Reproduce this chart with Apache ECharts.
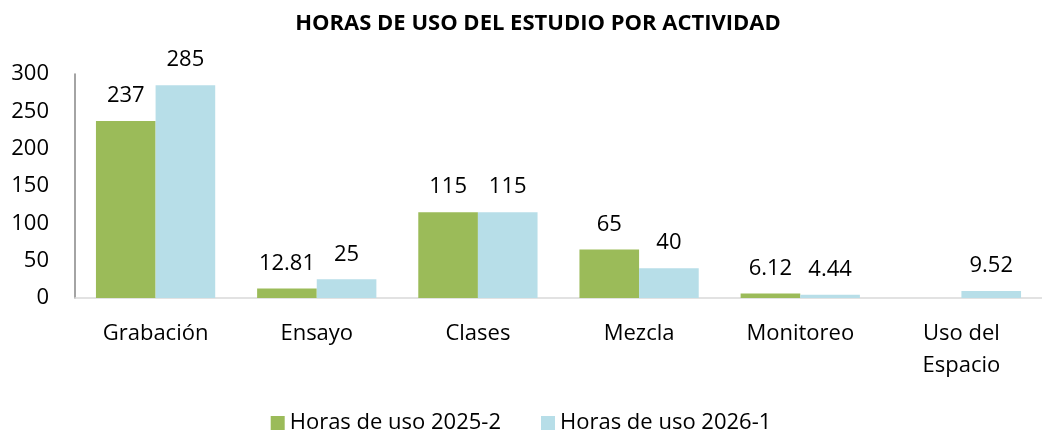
<!DOCTYPE html>
<html>
<head>
<meta charset="utf-8">
<script src="https://cdn.jsdelivr.net/npm/echarts@6/dist/echarts.min.js"></script>
<style>
  html, body { margin: 0; padding: 0; background: #fff; }
  #main { width: 1042px; height: 431px; }
</style>
</head>
<body>
<div id="main"></div>
<script>
var categories = ['Grabación', 'Ensayo', 'Clases', 'Mezcla', 'Monitoreo', 'Uso del\nEspacio'];
var horas2025_2 = [237, 12.81, 115, 65, 6.12, null];
var horas2026_1 = [285, 25, 115, 40, 4.44, 9.52];
var yTicks = { min: 0, max: 300, interval: 50 };

var fontFam = '"Open Sans", sans-serif';

var barLabel = {
    show: true,
    position: 'top',
    distance: 14,
    color: '#000',
    fontSize: 22,
    fontFamily: fontFam
};

var option = {
    title: {
        text: 'HORAS DE USO DEL ESTUDIO POR ACTIVIDAD',
        left: 533,
        textAlign: 'center',
        top: 8,
        textStyle: {
            fontSize: 22,
            fontWeight: 'bold',
            color: '#000',
            fontFamily: fontFam
        }
    },
    legend: {
        bottom: -8,
        left: 'center',
        itemWidth: 14,
        itemHeight: 14,
        itemGap: 40,
        icon: 'rect',
        textStyle: {
            fontSize: 22,
            color: '#000',
            fontFamily: fontFam
        },
        data: ['Horas de uso 2025-2', 'Horas de uso 2026-1']
    },
    grid: {
        left: 75,
        right: -8,
        top: 74,
        bottom: 133,
        containLabel: false
    },
    xAxis: {
        type: 'category',
        data: categories,
        axisTick: { show: false },
        axisLine: { lineStyle: { color: '#d9d9d9', width: 1.5 } },
        axisLabel: {
            color: '#000',
            fontSize: 22,
            fontFamily: fontFam,
            margin: 20,
            lineHeight: 32,
            interval: 0
        }
    },
    yAxis: {
        type: 'value',
        min: yTicks.min,
        max: yTicks.max,
        interval: yTicks.interval,
        splitLine: { show: false },
        axisTick: { show: false },
        axisLine: { show: true, lineStyle: { color: '#868686', width: 1.5 } },
        axisLabel: {
            color: '#000',
            fontSize: 22,
            fontFamily: fontFam,
            margin: 26
        }
    },
    series: [
        {
            name: 'Horas de uso 2025-2',
            type: 'bar',
            data: horas2025_2,
            barGap: '0%',
            barCategoryGap: '26%',
            itemStyle: { color: '#9bbb59' },
            label: barLabel
        },
        {
            name: 'Horas de uso 2026-1',
            type: 'bar',
            data: horas2026_1,
            itemStyle: { color: '#b7dee8' },
            label: barLabel
        }
    ]
};

var chart = echarts.init(document.getElementById('main'));
chart.setOption(option);
</script>
</body>
</html>
